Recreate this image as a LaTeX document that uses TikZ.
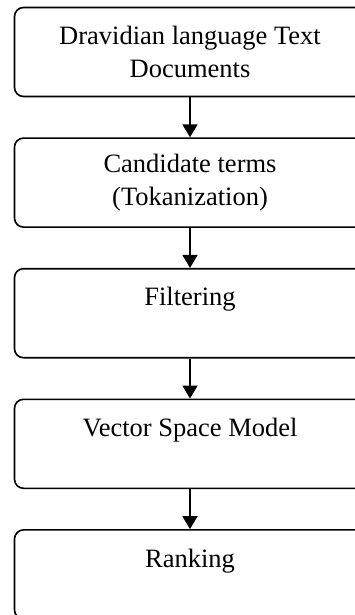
\documentclass[tikz,border=0pt]{standalone}
\usepackage{fontspec}
\setmainfont{Liberation Serif}
\usepackage{tikz}
\usetikzlibrary{positioning}
\usetikzlibrary{arrows.meta}
\tikzset{
    stage/.style={draw, rectangle, rounded corners=9pt, line width=1.6pt,
        minimum width=351pt, minimum height=89pt, align=center,
        font=\fontsize{26.5}{33}\selectfont},
    flow/.style={-{Triangle[length=13pt, width=15pt]}, line width=1.8pt}
}
\begin{document}
\begin{tikzpicture}[node distance=40pt]
        \clip (0pt,0pt) rectangle (355pt,-615pt);
        \useasboundingbox (0pt,0pt) rectangle (355pt,-615pt);

        \node[stage] (docs) at (190pt,-52pt) {Dravidian language Text\\Documents};
        \node[stage, below=of docs] (terms) {Candidate terms\\(Tokanization)};
        \node[stage, below=of terms] (filter) {Filtering\\\mbox{}};
        \node[stage, below=of filter] (vsm) {Vector Space Model\\\mbox{}};
        \node[stage, below=of vsm] (rank) {Ranking\\\mbox{}};

        \draw[flow] (docs) -- (terms);
        \draw[flow] (terms) -- (filter);
        \draw[flow] (filter) -- (vsm);
        \draw[flow] (vsm) -- (rank);
\end{tikzpicture}
\end{document}
